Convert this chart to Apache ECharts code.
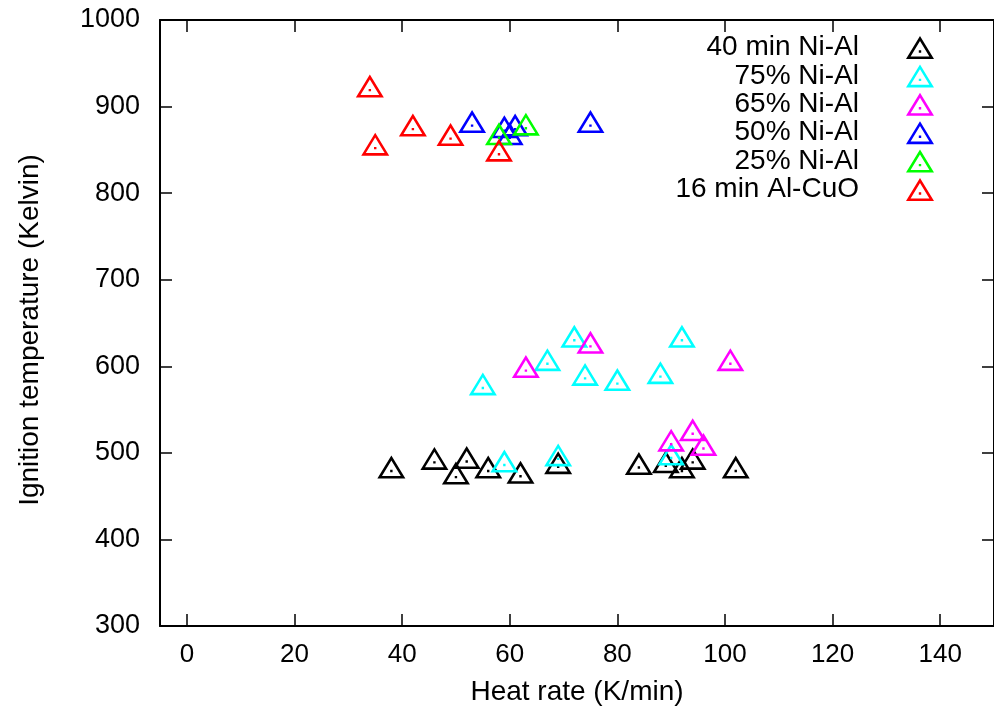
<!DOCTYPE html>
<html>
<head>
<meta charset="utf-8">
<title>Ignition temperature vs heat rate</title>
<script src="https://cdn.jsdelivr.net/npm/echarts@6/dist/echarts.min.js"></script>
<style>
  html, body { margin: 0; padding: 0; background: #ffffff; }
  #chart { width: 994px; height: 719px; }
</style>
</head>
<body>
<div id="chart"></div>
<script>
// Measured ignition points: [heat rate (K/min), ignition temperature (K)]
const niAl40min = [[38, 479], [46, 489], [50, 472], [52, 490], [56, 479], [62, 473],
                   [69, 484], [84, 483], [89, 485], [92, 479], [94, 489], [102, 479]];
const niAl75 = [[55, 575], [59, 486], [67, 603], [69, 493], [72, 630], [74, 586],
                [80, 580], [88, 588], [90, 494], [92, 630]];
const niAl65 = [[63, 595], [75, 623], [90, 510], [94, 522], [96, 505], [101, 603]];
const niAl50 = [[53, 878], [59, 872], [60, 864], [61, 874], [75, 878]];
const niAl25 = [[58, 864], [63, 875]];
const alCuO16min = [[34, 919], [35, 852], [42, 874], [49, 863], [58, 845]];

const seriesNames = ['40 min Ni-Al', '75% Ni-Al', '65% Ni-Al', '50% Ni-Al', '25% Ni-Al', '16 min Al-CuO'];
const seriesData = [niAl40min, niAl75, niAl65, niAl50, niAl25, alCuO16min];
const seriesColors = ['#000000', '#00ffff', '#ff00ff', '#0000ff', '#00ff00', '#ff0000'];

const xTicks = [0, 20, 40, 60, 80, 100, 120, 140];
const yTicks = [300, 400, 500, 600, 700, 800, 900, 1000];

// Open triangle with a centre dot (outline drawn as a ring via reversed inner path)
const triangleSymbol = 'path://M140 0 L280 230 L0 230 Z ' +
  'M140 49 L46 204 L234 204 Z ' +
  'M128 143 L152 143 L152 167 L128 167 Z';

const FONT = '"Liberation Sans", Arial, Helvetica, sans-serif';

const chart = echarts.init(document.getElementById('chart'), null, { renderer: 'canvas' });

const axisCommon = {
  axisLine: { show: true, onZero: false, lineStyle: { color: '#000', width: 2 } },
  axisTick: { show: true, inside: true, length: 12, lineStyle: { color: '#000', width: 1.5 } },
  splitLine: { show: false }
};

const plainNumber = v => String(v);

const option = {
  animation: false,
  backgroundColor: '#ffffff',
  grid: { left: 160, top: 20, width: 835, height: 606, containLabel: false },
  legend: {
    orient: 'vertical',
    align: 'right',
    right: 60,
    top: 33.5,
    padding: 0,
    itemWidth: 112,
    itemHeight: 23,
    itemGap: 0.4,
    selectedMode: false,
    textStyle: { fontFamily: FONT, fontSize: 28, lineHeight: 27, color: '#000' },
    data: seriesNames.map(n => ({ name: n, icon: triangleSymbol }))
  },
  xAxis: [
    Object.assign({}, axisCommon, {
      type: 'value', position: 'bottom', min: -5, max: 150,
      axisTick: Object.assign({}, axisCommon.axisTick, { customValues: xTicks }),
      axisLabel: { customValues: xTicks, margin: 16, fontFamily: FONT, fontSize: 26, color: '#000', formatter: plainNumber },
      name: 'Heat rate (K/min)', nameLocation: 'middle', nameGap: 52,
      nameTextStyle: { fontFamily: FONT, fontSize: 28, color: '#000' }
    }),
    Object.assign({}, axisCommon, {
      type: 'value', position: 'top', min: -5, max: 150,
      axisTick: Object.assign({}, axisCommon.axisTick, { customValues: xTicks }),
      axisLabel: { show: false }
    })
  ],
  yAxis: [
    Object.assign({}, axisCommon, {
      type: 'value', position: 'left', min: 300, max: 1000, interval: 100,
      axisTick: Object.assign({}, axisCommon.axisTick, { customValues: yTicks }),
      axisLabel: { customValues: yTicks, margin: 20, fontFamily: FONT, fontSize: 27, color: '#000', formatter: plainNumber },
      name: 'Ignition temperature (Kelvin)', nameLocation: 'middle', nameGap: 116, nameRotate: 90,
      nameTextStyle: { fontFamily: FONT, fontSize: 28, color: '#000', padding: [0, 14, 0, 0] }
    }),
    Object.assign({}, axisCommon, {
      type: 'value', position: 'right', min: 300, max: 1000, interval: 100,
      axisTick: Object.assign({}, axisCommon.axisTick, { customValues: yTicks }),
      axisLabel: { show: false }
    })
  ],
  series: seriesNames.map((name, i) => ({
    name: name,
    type: 'scatter',
    xAxisIndex: 0,
    yAxisIndex: 0,
    data: seriesData[i],
    symbol: triangleSymbol,
    symbolSize: [28, 23],
    symbolOffset: [0, -4],
    itemStyle: { color: seriesColors[i], borderWidth: 0, opacity: 1 },
    emphasis: { disabled: true },
    z: 2 + i
  }))
};

chart.setOption(option);
</script>
</body>
</html>
